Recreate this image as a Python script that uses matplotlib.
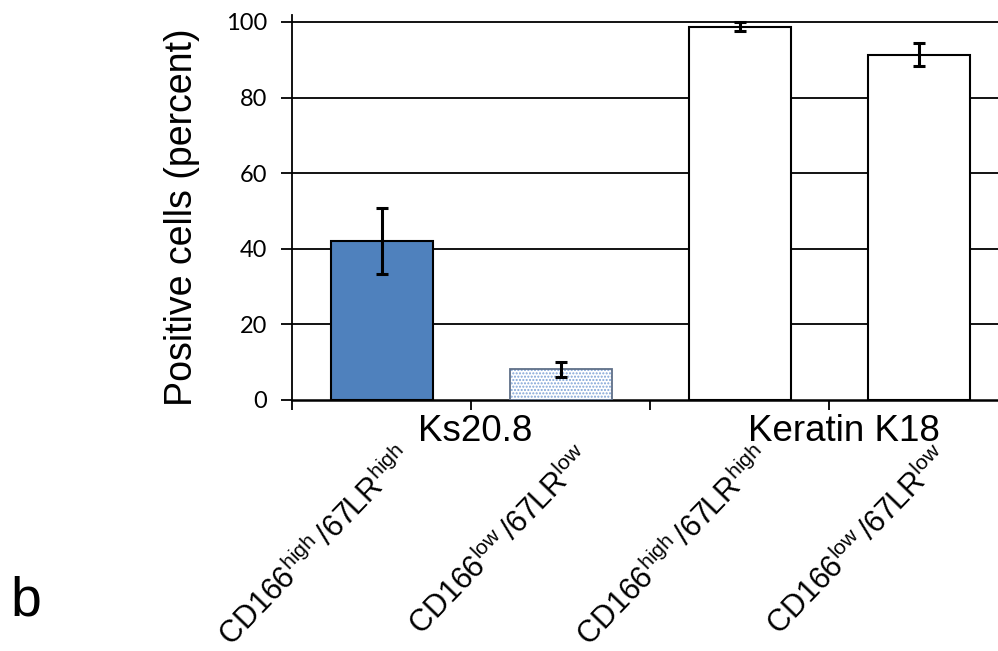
import matplotlib
matplotlib.use("Agg")
import matplotlib.pyplot as plt
import numpy as np

# Data
categories = [r"CD166$^{\mathrm{high}}\,$/67LR$^{\mathrm{high}}$",
              r"CD166$^{\mathrm{low}}\,$/67LR$^{\mathrm{low}}$",
              r"CD166$^{\mathrm{high}}\,$/67LR$^{\mathrm{high}}$",
              r"CD166$^{\mathrm{low}}\,$/67LR$^{\mathrm{low}}$"]
groups = ["Ks20.8", "Keratin K18"]
values = [42.1, 8.1, 98.8, 91.4]
errors = [8.7, 2.0, 1.3, 3.1]
yticks = [0, 20, 40, 60, 80, 100]

plt.rcParams['font.family'] = ['Liberation Sans', 'DejaVu Sans']
plt.rcParams['mathtext.fontset'] = 'custom'
plt.rcParams['mathtext.rm'] = 'Liberation Sans'
plt.rcParams['mathtext.it'] = 'Liberation Sans:italic'
plt.rcParams['mathtext.bf'] = 'Liberation Sans:bold'

fig = plt.figure(figsize=(9.98, 6.51), dpi=100)
ax = fig.add_axes([292/998, 1-400/651, (1008.5-292)/998, (400-15)/651])

x = np.arange(len(values))
w = 0.57
ax.set_xlim(-0.5, 3.5)
ax.set_ylim(0, 101.85)

for yv in yticks[1:]:
    ax.axhline(yv, color='black', lw=1.3, zorder=1)

# bar 1: solid blue
ax.bar(x[0], values[0], w, color='#4f81bd', edgecolor='black', lw=1.5, zorder=3)
# bar 2: dotted light blue pattern
ax.bar(x[1], values[1], w, color='white', edgecolor='#7fa3d6', hatch='.....', lw=0, zorder=3)
ax.bar(x[1], values[1], w, color='none', edgecolor='#5f6f88', lw=1.3, zorder=4)
# bars 3,4: white
ax.bar(x[2:], values[2:], w, color='white', edgecolor='black', lw=1.5, zorder=3)

ax.errorbar(x, values, yerr=errors, fmt='none', ecolor='black', elinewidth=2.2,
            capsize=4.5, capthick=2.2, zorder=5)

for s in ['top', 'right']:
    ax.spines[s].set_visible(False)
ax.spines['left'].set_linewidth(1.3)
ax.spines['bottom'].set_linewidth(1.8)

ax.set_yticks(yticks)
ax.set_yticklabels([str(v) for v in yticks], family=['Lato', 'DejaVu Sans'], fontsize=17)
ax.tick_params(axis='y', direction='out', length=8, width=1.3, pad=10)
ax.set_xticks([-0.5, 0.5, 1.5, 2.5, 3.5])
ax.set_xticklabels([])
ax.tick_params(axis='x', direction='out', length=7, width=1.3)

ax.set_ylabel("Positive cells (percent)", fontsize=27)
ax.yaxis.set_label_coords(-0.128, 0.475)

trans = ax.get_xaxis_transform()
ax.text(0.52, -0.083, groups[0], transform=trans, ha='center', va='center', fontsize=26.5)
ax.text(2.58, -0.083, groups[1], transform=trans, ha='center', va='center', fontsize=26.5)

for i, lab in enumerate(categories):
    ax.text(i + 0.08, -0.108, lab, transform=trans, ha='right', va='top',
            rotation=46, rotation_mode='anchor', fontsize=22)

fig.text(10/998, 1-615/651, "b", fontsize=40, ha='left', va='baseline')

fig.savefig("out.png", dpi=100)
